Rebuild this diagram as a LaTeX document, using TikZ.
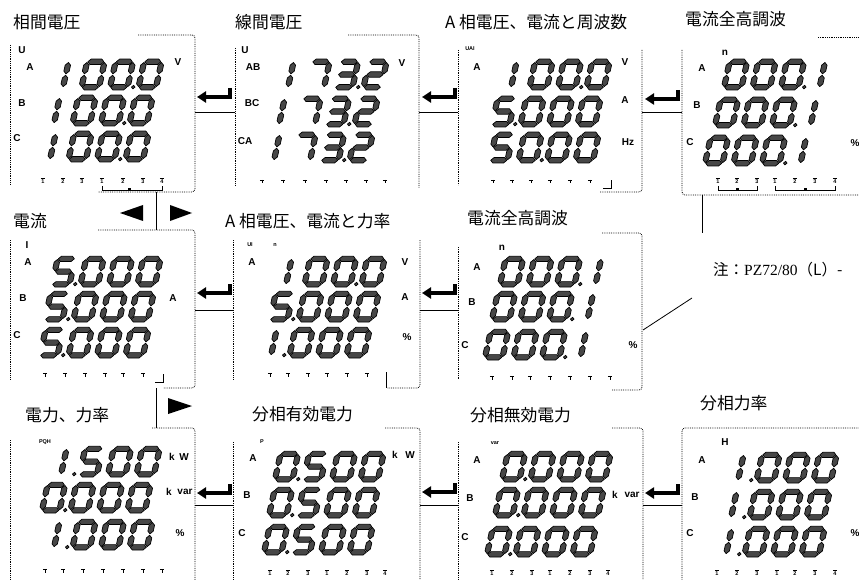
\documentclass[tikz,border=0pt]{standalone}
\usepackage{fontspec}
\setmainfont{Liberation Sans}
\newfontfamily\cjk{Noto Sans CJK JP}
\newfontfamily\serifnote{Liberation Serif}
\usetikzlibrary{arrows.meta}

\newcommand\LcdW{17.5}
\newcommand\LcdH{25.5}
\newcommand\LcdT{2.7}
\newcommand\LcdG{0.7}

\tikzset{
  seg/.style={fill=black!72, draw=black, line width=0.7pt, line join=round},
  lbl/.style={font=\fontsize{10}{10}\selectfont\bfseries, inner sep=0pt},
  tinylbl/.style={font=\fontsize{5.5}{5.5}\selectfont\bfseries, inner sep=0pt},
  ttl/.style={font=\cjk\fontsize{16.8}{17}\selectfont, inner sep=0pt, anchor=west},
  frame/.style={densely dotted, line width=0.8pt, rounded corners=3pt},
  enter/.style={line width=3.2pt, line join=miter, -{Triangle[length=9pt,width=11pt]}},
  rail/.style={line width=1pt},
  tickmark/.style={line width=0.8pt}
}

\newcommand\HSeg[3]{\filldraw[seg] ({#2+\LcdG},{#1}) -- ({#2+\LcdG+\LcdT},{#1+\LcdT}) -- ({#3-\LcdG-\LcdT},{#1+\LcdT}) -- ({#3-\LcdG},{#1}) -- ({#3-\LcdG-\LcdT},{#1-\LcdT}) -- ({#2+\LcdG+\LcdT},{#1-\LcdT}) -- cycle;}
\newcommand\VSeg[3]{\filldraw[seg] ({#1},{#2+\LcdG}) -- ({#1+\LcdT},{#2+\LcdG+\LcdT}) -- ({#1+\LcdT},{#3-\LcdG-\LcdT}) -- ({#1},{#3-\LcdG}) -- ({#1-\LcdT},{#3-\LcdG-\LcdT}) -- ({#1-\LcdT},{#2+\LcdG+\LcdT}) -- cycle;}
\newcommand\SegA{\HSeg{\LcdH}{0}{\LcdW}}
\newcommand\SegG{\HSeg{\LcdH/2}{0}{\LcdW}}
\newcommand\SegD{\HSeg{0}{0}{\LcdW}}
\newcommand\SegB{\VSeg{\LcdW}{\LcdH/2}{\LcdH}}
\newcommand\SegC{\VSeg{\LcdW}{0}{\LcdH/2}}
\newcommand\SegE{\VSeg{0}{0}{\LcdH/2}}
\newcommand\SegF{\VSeg{0}{\LcdH/2}{\LcdH}}
\newcommand\SegOne{\VSeg{10}{0}{\LcdH/2}\VSeg{10}{\LcdH/2}{\LcdH}}
\newcommand\LcdDigit[1]{\ifcase#1\relax
  \SegA\SegB\SegC\SegD\SegE\SegF\or
  \SegOne\or
  \SegA\SegB\SegG\SegE\SegD\or
  \SegA\SegB\SegG\SegC\SegD\or
  \SegF\SegG\SegB\SegC\or
  \SegA\SegF\SegG\SegC\SegD\or
  \SegA\SegF\SegG\SegE\SegC\SegD\or
  \SegA\SegB\SegC\or
  \SegA\SegB\SegC\SegD\SegE\SegF\SegG\or
  \SegA\SegB\SegC\SegD\SegF\SegG\fi}
% x, y (bottom-left of first cell), four digits, position of decimal point
\newcommand\LcdRow[7]{%
  \begin{scope}[shift={(#1+2,#2-2.7)}]
  \begin{scope}[x=1pt,y=1pt,xslant=0.22]
    \LcdDigit{#3}
    \begin{scope}[xshift=28.5pt]\LcdDigit{#4}\end{scope}
    \begin{scope}[xshift=57pt]\LcdDigit{#5}\end{scope}
    \begin{scope}[xshift=85.5pt]\LcdDigit{#6}\end{scope}
    \filldraw[seg] ({#7*28.5-5.3},0.2) circle (1.8);
  \end{scope}
  \end{scope}}
\newcommand\Lbl[4]{\node[lbl] (#1) at (#2,#3) {#4};}
\newcommand\TLbl[4]{\node[tinylbl] (#1) at (#2,#3) {#4};}
\newcommand\TickRow[2]{\foreach \tx in {#2} {\draw[tickmark] ({\tx-2.2},{#1-2}) -- ({\tx+2.2},{#1-2}); \draw[line width=1pt] ({\tx},{#1-2}) -- ({\tx},{#1+1.5});}}
\newcommand\NumRow[2]{\foreach \tx/\tl in {#2} {\draw[tickmark] ({\tx-2.2},{#1-4}) -- ({\tx+2.2},{#1-4}); \node[tinylbl] (ind-\tx-#1) at ({\tx},{#1}) {\tl};}}
\newcommand\EnterArrow[4]{\coordinate (#1-l) at (#2,#4); \coordinate (#1-r) at (#3,#4);
  \draw[enter] ([yshift=9pt]#1-r) -- (#1-r) -- (#1-l);}
\newcommand\Rail[4]{\coordinate (#1-a) at (#2,#4); \coordinate (#1-b) at (#3,#4); \draw[rail] (#1-a) -- (#1-b);}

\begin{document}
\begin{tikzpicture}[x=1pt,y=-1pt]
\fill[white] (0,0) rectangle (859,580);
\useasboundingbox (0,0) rectangle (859,580);

% ---------- titles ----------
\node[ttl] (t1) at (13,22) {相間電圧};
\node[ttl] (t2) at (235,22) {線間電圧};
\node[ttl] (t3) at (445,22) {A 相電圧、電流と周波数};
\node[ttl] (t4) at (685,19) {電流全高調波};
\node[ttl] (t5) at (13,221) {電流};
\node[ttl] (t6) at (225,221) {A 相電圧、電流と力率};
\node[ttl] (t7) at (467,218) {電流全高調波};
\node[ttl] (t9) at (25,415) {電力、力率};
\node[ttl] (t10) at (252,414) {分相有効電力};
\node[ttl] (t11) at (470,415) {分相無効電力};
\node[ttl] (t12) at (700,403) {分相力率};
\node[ttl, font=\cjk\fontsize{15.5}{16}\selectfont] (note) at (713,270) {注：{\serifnote PZ72/80}（L）-};

% ---------- frames ----------
\draw[frame] (10,45) -- (10,185);
\draw[frame] (138,35) -- (195,35) -- (195,192) -- (98,192);
\draw[frame] (235,48) -- (235,185);
\draw[frame] (348,35) -- (419,35) -- (419,188);
\draw[frame] (458,50) -- (458,185);
\draw[frame] (642,50) -- (642,192) -- (600,192);
\draw[frame] (682,50) -- (682,195) -- (862,195);
\draw[frame] (818,37) -- (862,37);
\draw[frame] (10,240) -- (10,380);
\draw[frame] (98,230) -- (195,230) -- (195,388) -- (163,388);
\draw[frame] (233,240) -- (233,380);
\draw[frame] (420,240) -- (420,388) -- (387,388);
\draw[frame] (458,247) -- (458,380);
\draw[frame] (602,233) -- (642,233) -- (642,390) -- (612,390);
\draw[frame] (10,440) -- (10,583);
\draw[frame] (152,428) -- (195,428) -- (195,583);
\draw[frame] (233,442) -- (233,583);
\draw[frame] (385,428) -- (420,428) -- (420,583);
\draw[frame] (458,442) -- (458,583);
\draw[frame] (612,428) -- (643,428) -- (643,583);
\draw[frame] (862,428) -- (682,428) -- (682,583);

% ---------- P1 相間電圧 ----------
\Lbl{p1u}{22}{50}{U}\Lbl{p1a}{30}{67}{A}\Lbl{p1b}{22}{103}{B}\Lbl{p1c}{17}{138}{C}\Lbl{p1v}{178}{62}{V}
\LcdRow{51}{90}{1}{0}{0}{0}{3}
\LcdRow{42}{126}{1}{0}{0}{0}{3}
\LcdRow{38}{162}{1}{0}{0}{0}{3}
\NumRow{182}{43/1,63/2,82/3,102/1,123/2,143/3,162/4}
\draw[tickmark] (102,186) |- (162,190) -- (162,186);
\fill (128,188.5) rectangle (131,191.5);

% ---------- P2 線間電圧 ----------
\Lbl{p2u}{245}{50}{U}\Lbl{p2ab}{253}{67}{AB}\Lbl{p2bc}{252}{103}{BC}\Lbl{p2ca}{245}{141}{CA}\Lbl{p2v}{402}{63}{V}
\LcdRow{276}{90}{1}{7}{3}{2}{3}
\LcdRow{267}{127}{1}{7}{3}{2}{3}
\LcdRow{262}{163}{1}{7}{3}{2}{3}
\TickRow{182}{262,283,305,326,346,366,385}

% ---------- P3 ----------
\TLbl{p3u}{470}{49}{UAI}\Lbl{p3a}{477}{67}{A}\Lbl{p3v}{625}{62}{V}\Lbl{p3ua}{625}{100}{A}\Lbl{p3hz}{628}{142}{Hz}
\LcdRow{499}{90}{1}{0}{0}{0}{3}
\LcdRow{490}{127}{5}{0}{0}{0}{1}
\LcdRow{488}{163}{5}{0}{0}{0}{2}
\TickRow{182}{493,512,531,550,570,590}
\draw[tickmark] (603,188) -- (611,188) -- (611,180);

% ---------- P4 ----------
\Lbl{p4n}{725}{53}{n}\Lbl{p4a}{702}{68}{A}\Lbl{p4b}{697}{105}{B}\Lbl{p4c}{690}{142}{C}\Lbl{p4p}{855}{143}{\%}
\LcdRow{722}{90}{0}{0}{0}{1}{3}
\LcdRow{713}{128}{0}{0}{0}{1}{3}
\LcdRow{703}{166}{0}{0}{0}{1}{3}
\NumRow{182}{718/1,737/2,757/3,775/1,795/2,815/3,835/4}
\draw[tickmark] (718,186) |- (757,190) -- (757,186);
\draw[tickmark] (775,186) |- (835,190) -- (835,186);
\fill (736,188.5) rectangle (739,191.5);
\fill (804,188.5) rectangle (807,191.5);

% ---------- P5 電流 ----------
\Lbl{p5i}{27}{245}{I}\Lbl{p5a}{28}{262}{A}\Lbl{p5b}{23}{298}{B}\Lbl{p5c}{17}{335}{C}\Lbl{p5ua}{173}{298}{A}
\LcdRow{50}{287}{5}{0}{0}{0}{1}
\LcdRow{43}{322}{5}{0}{0}{0}{1}
\LcdRow{38}{358}{5}{0}{0}{0}{1}
\TickRow{375}{45,65,85,105,123,143}
\draw[tickmark] (155,382) -- (163,382) -- (163,374);

% ---------- P6 ----------
\TLbl{p6ui}{250}{245}{UI}\TLbl{p6n}{275}{245}{n}\Lbl{p6a}{252}{262}{A}\Lbl{p6v}{405}{262}{V}\Lbl{p6ua}{405}{297}{A}\Lbl{p6p}{407}{337}{\%}
\LcdRow{274}{287}{1}{0}{0}{0}{3}
\LcdRow{268}{322}{5}{0}{0}{0}{1}
\LcdRow{259}{358}{1}{0}{0}{0}{1}
\TickRow{375}{270,288,308,327,347,367}
\draw[tickmark] (386,372) -- (386,388);

% ---------- P7 ----------
\Lbl{p7n}{502}{248}{n}\Lbl{p7a}{477}{267}{A}\Lbl{p7b}{472}{302}{B}\Lbl{p7c}{465}{345}{C}\Lbl{p7p}{633}{345}{\%}
\LcdRow{498}{287}{0}{0}{0}{1}{3}
\LcdRow{490}{322}{0}{0}{0}{1}{3}
\LcdRow{483}{360}{0}{0}{0}{1}{3}
\TickRow{378}{492,512,530,550,570,590,610}

% ---------- P9 電力、力率 ----------
\TLbl{p9h}{45}{442}{PQH}\Lbl{p9k1}{172}{457}{k}\Lbl{p9w}{184}{457}{W}\Lbl{p9k2}{169}{492}{k}\Lbl{p9var}{185}{492}{var}\Lbl{p9p}{180}{533}{\%}
\LcdRow{49}{477}{1}{5}{0}{0}{1}
\LcdRow{40}{513}{0}{0}{0}{0}{1}
\LcdRow{42}{550}{1}{0}{0}{0}{1}
\TickRow{571}{45,63,83,103,123,143,162}

% ---------- P10 ----------
\TLbl{p10h}{262}{442}{P}\Lbl{p10a}{253}{458}{A}\Lbl{p10b}{247}{495}{B}\Lbl{p10c}{242}{533}{C}\Lbl{p10k}{395}{455}{k}\Lbl{p10w}{410}{455}{W}
\LcdRow{273}{482}{0}{5}{0}{0}{1}
\LcdRow{267}{518}{0}{5}{0}{0}{1}
\LcdRow{262}{555}{0}{5}{0}{0}{1}
\NumRow{574}{270/1,288/2,308/3,327/1,347/2,367/3,385/4}

% ---------- P11 ----------
\TLbl{p11h}{495}{443}{var}\Lbl{p11a}{477}{460}{A}\Lbl{p11b}{470}{498}{B}\Lbl{p11c}{465}{537}{C}\Lbl{p11k}{615}{495}{k}\Lbl{p11var}{632}{495}{var}
\LcdRow{500}{482}{0}{0}{0}{0}{1}
\LcdRow{493}{518}{0}{0}{0}{0}{1}
\LcdRow{485}{557}{0}{0}{0}{0}{1}
\NumRow{574}{492/1,512/2,532/3,550/1,570/2,590/3,608/4}

% ---------- P12 ----------
\Lbl{p12h}{725}{442}{H}\Lbl{p12a}{702}{460}{A}\Lbl{p12b}{695}{497}{B}\Lbl{p12c}{690}{533}{C}\Lbl{p12p}{855}{533}{\%}
\LcdRow{726}{483}{1}{0}{0}{0}{1}
\LcdRow{719}{520}{1}{0}{0}{0}{1}
\LcdRow{714}{557}{1}{0}{0}{0}{1}
\NumRow{574}{717/1,737/2,757/3,777/1,795/2,815/3,835/4}

% ---------- connectors ----------
\EnterArrow{e12}{197}{230}{97}   \Rail{r12}{195}{235}{113}
\EnterArrow{e23}{422}{455}{97}   \Rail{r23}{419}{458}{113}
\EnterArrow{e34}{645}{678}{99}   \Rail{r34}{642}{682}{113}
\EnterArrow{e56}{197}{230}{293}  \Rail{r56}{195}{233}{310}
\EnterArrow{e67}{422}{455}{293}  \Rail{r67}{420}{458}{310}
\EnterArrow{e910}{197}{230}{493} \Rail{r910}{195}{233}{505}
\EnterArrow{e1011}{422}{455}{492}\Rail{r1011}{420}{458}{505}
\EnterArrow{e1112}{645}{678}{493}\Rail{r1112}{643}{682}{505}

\coordinate (v15a) at (156,192); \coordinate (v15b) at (156,230);
\draw[rail] (v15a) -- (v15b);
\fill (143,205) -- (143,221) -- (120,213) -- cycle;
\fill (170,205) -- (170,221) -- (192,213) -- cycle;
\coordinate (v59a) at (156,388); \coordinate (v59b) at (156,428);
\draw[rail] (v59a) -- (v59b);
\fill (168,398) -- (168,414) -- (192,406) -- cycle;

\coordinate (n4a) at (702,195); \coordinate (n4b) at (702,233);
\draw[line width=0.8pt] (n4a) -- (n4b);
\coordinate (n7a) at (643,330); \coordinate (n7b) at (692,298);
\draw[line width=0.8pt] (n7a) -- (n7b);
\end{tikzpicture}
\end{document}
